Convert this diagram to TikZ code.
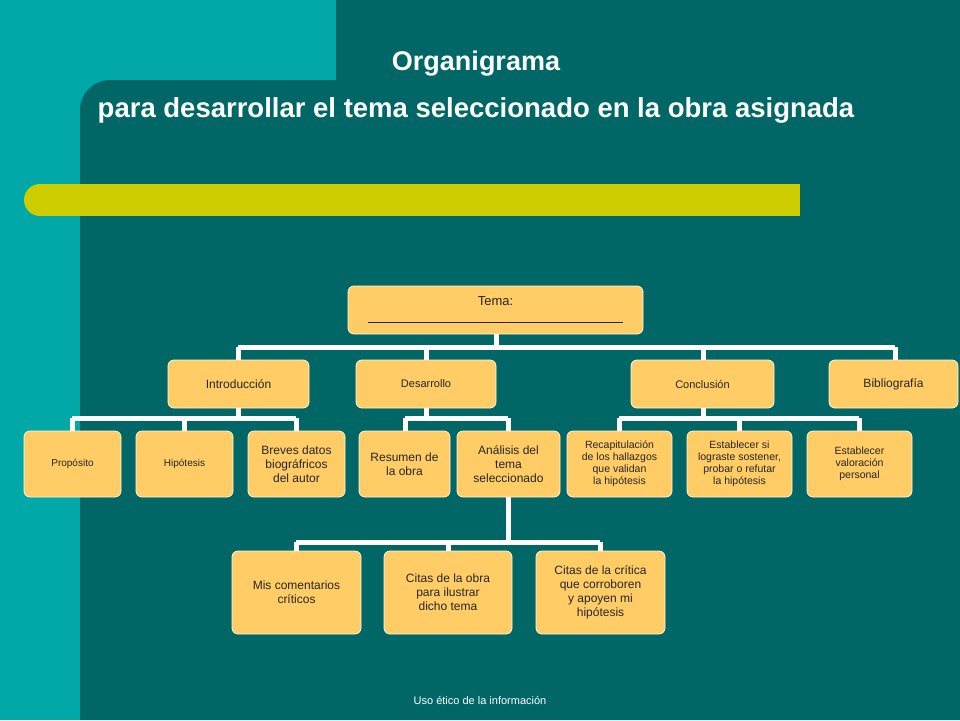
\documentclass[tikz,border=0pt]{standalone}
\usepackage{fontspec}
\setmainfont{Liberation Sans}
\definecolor{lt}{HTML}{00A8A8}
\definecolor{dk}{HTML}{006666}
\definecolor{yb}{HTML}{CCCC00}
\definecolor{bx}{HTML}{FFCC66}
\begin{document}
\begin{tikzpicture}[x=1pt,y=-1pt,
  box/.style={draw=white!80!bx,line width=0.8pt,fill=bx,rounded corners=6pt,align=center,inner sep=1pt,text=black!85},
  wire/.style={draw=white,line width=5pt}]
\useasboundingbox (0,0) rectangle (960,720);
\fill[lt] (0,0) rectangle (960,720);
\fill[dk] (336,0) rectangle (960,80);
\fill[dk] (80,720) [rounded corners=30pt]-- (80,80) [sharp corners]-- (960,80) -- (960,720) -- cycle;
\fill[yb] (40,184) rectangle (800,216);
\fill[yb] (40,200) circle[radius=16];
\fill[yb] (40,200) rectangle (64,216);
\node[white,font=\bfseries\fontsize{27}{32}\selectfont] (t1) at (476,64) {Organigrama};
\node[white,font=\bfseries\fontsize{27.5}{32}\selectfont] (t2) at (476,110) {para desarrollar el tema seleccionado en la obra asignada};
\node[white,font=\fontsize{11}{13}\selectfont] (ft) at (480,700) {Uso ético de la información};
% wires
\draw[wire] (496,334) -- (496,347); \draw[wire] (238,347) -- (895,347);
\foreach \x in {238,426,703,895} \draw[wire] (\x,347) -- (\x,362);
\draw[wire] (238,408) -- (238,418); \draw[wire] (72,418) -- (296,418);
\foreach \x in {72,184,296} \draw[wire] (\x,418) -- (\x,433);
\draw[wire] (426,408) -- (426,418); \draw[wire] (405,418) -- (508,418);
\foreach \x in {405,508} \draw[wire] (\x,418) -- (\x,433);
\draw[wire] (703,408) -- (703,418); \draw[wire] (619,418) -- (859,418);
\foreach \x in {619,739,859} \draw[wire] (\x,418) -- (\x,433);
\draw[wire] (508,497) -- (508,542); \draw[wire] (296,542) -- (600,542);
\foreach \x in {296,448,600} \draw[wire] (\x,542) -- (\x,553);
% boxes
\node[box,minimum width=295,minimum height=48,font=\fontsize{13}{15}\selectfont] (tema) at (495.5,310) {Tema:\\[2pt]\rule{255pt}{0.8pt}};
\tikzset{l1/.style={box,minimum height=48,font=\fontsize{12}{14}\selectfont}}
\node[l1,minimum width=141] (intro) at (238.5,384) {Introducción};
\node[l1,minimum width=140,font=\fontsize{11}{13}\selectfont] (des) at (426,384) {Desarrollo};
\node[l1,minimum width=143,font=\fontsize{11}{13}\selectfont] (con) at (702.5,384) {Conclusión};
\node[l1,minimum width=129] (bib) at (893.5,384) {Bibliografía};
\tikzset{l2/.style={box,minimum height=66,font=\fontsize{12}{14}\selectfont}}
\node[l2,minimum width=97,font=\fontsize{10}{12}\selectfont] (pro) at (72.5,464) {Propósito};
\node[l2,minimum width=97,font=\fontsize{10}{12}\selectfont] (hip) at (184.5,464) {Hipótesis};
\node[l2,minimum width=97] (bre) at (296.5,464) {Breves datos\\biográfricos\\del autor};
\node[l2,minimum width=91] (res) at (404.5,464) {Resumen de\\la obra};
\node[l2,minimum width=103] (ana) at (508.5,464) {Análisis del\\tema\\seleccionado};
\tikzset{l2s/.style={l2,font=\fontsize{10.5}{12}\selectfont}}
\node[l2s,minimum width=105] (rec) at (619.5,464) {Recapitulación\\de los hallazgos\\que validan\\la hipótesis};
\node[l2s,minimum width=105] (est) at (739.5,464) {Establecer si\\lograste sostener,\\probar o refutar\\la hipótesis};
\node[l2s,minimum width=105] (val) at (859.5,464) {Establecer\\valoración\\personal};
\tikzset{l3/.style={box,minimum height=83,font=\fontsize{12}{14}\selectfont}}
\node[l3,minimum width=129] (mis) at (296.5,592.5) {Mis comentarios\\críticos};
\node[l3,minimum width=128] (cio) at (448,592.5) {Citas de la obra\\para ilustrar\\dicho tema};
\node[l3,minimum width=129] (cic) at (600.5,592.5) {Citas de la crítica\\que corroboren\\y apoyen mi\\hipótesis};
\end{tikzpicture}
\end{document}
